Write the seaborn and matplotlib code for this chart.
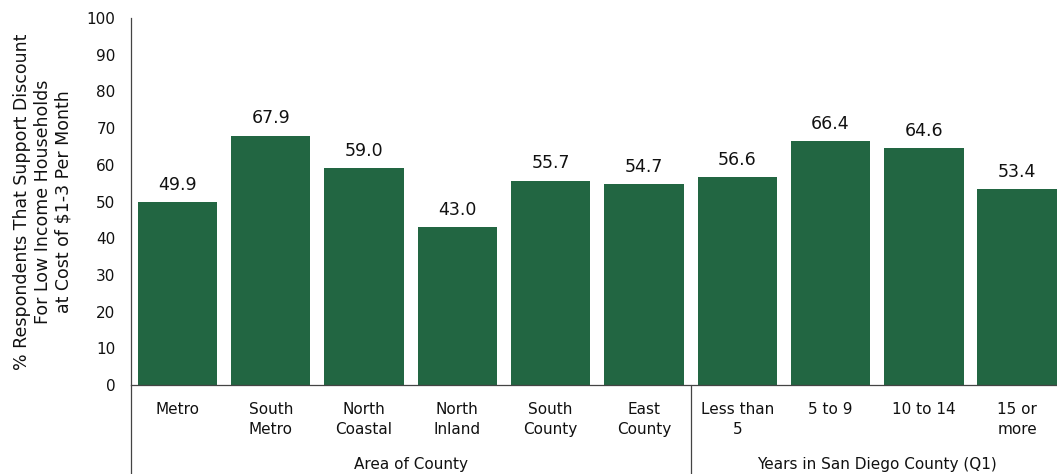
"""Support for low-income discount by area and years in county."""

import matplotlib.pyplot as plt
import pandas as pd
import seaborn as sns
from matplotlib.lines import Line2D
from matplotlib.transforms import blended_transform_factory

BAR_COLOR = "#226642"

categories = [
    "Metro\n ", "South\nMetro", "North\nCoastal", "North\nInland", "South\nCounty",
    "East\nCounty", "Less than\n5", "5 to 9", "10 to 14", "15 or\nmore",
]
values = [49.9, 67.9, 59.0, 43.0, 55.7, 54.7, 56.6, 66.4, 64.6, 53.4]
groups = ["Area of County", "Years in San Diego County (Q1)"]
group_sizes = [6, 4]
y_label = "% Respondents That Support Discount\nFor Low Income Households\nat Cost of $1-3 Per Month"

df = pd.DataFrame({"category": categories, "value": values})

sns.set_style("white")
plt.rcParams["font.family"] = ["DejaVu Sans"]

fig = plt.figure(figsize=(10.57, 4.74), dpi=100)
ax = fig.add_axes([130.8 / 1057, 1 - 385 / 474, 933 / 1057, 367 / 474])

sns.barplot(data=df, x="category", y="value", color=BAR_COLOR, width=0.85,
            saturation=1, linewidth=0, ax=ax)

ax.set_xlim(-0.5, len(categories) - 0.5)
ax.set_ylim(0, 100)
ax.set_yticks(range(0, 101, 10))
ax.tick_params(axis="y", length=0, labelsize=11, pad=11, labelcolor="#111111")
ax.tick_params(axis="x", length=0, labelsize=11, pad=12, labelcolor="#111111")
for lab in ax.get_xticklabels():
    lab.set_linespacing(1.45)
ax.set_xlabel("")
ax.set_ylabel(y_label, fontsize=12.5, labelpad=10, color="#111111")

for s in ["top", "right"]:
    ax.spines[s].set_visible(False)
for s in ["left", "bottom"]:
    ax.spines[s].set_color("#444444")
    ax.spines[s].set_linewidth(0.9)

for i, v in enumerate(values):
    ax.annotate(f"{v:.1f}", (i, v), xytext=(0, 6), textcoords="offset points",
                ha="center", va="bottom", fontsize=12.5, color="#111111")

# group labels and separators below the axis
trans = blended_transform_factory(ax.transData, ax.transAxes)
bottom = -89 / 367
start = 0
edges = [-0.5]
for name, n in zip(groups, group_sizes):
    mid = start + (n - 1) / 2
    ax.text(mid, -80 / 367, name, transform=trans, ha="center", va="center",
            fontsize=11, color="#111111")
    start += n
    edges.append(start - 0.5)
for e in edges[:-1]:
    ax.add_line(Line2D([e, e], [0, bottom], transform=trans, color="#444444",
                       lw=0.9, clip_on=False))

fig.savefig("out.png", dpi=100)
